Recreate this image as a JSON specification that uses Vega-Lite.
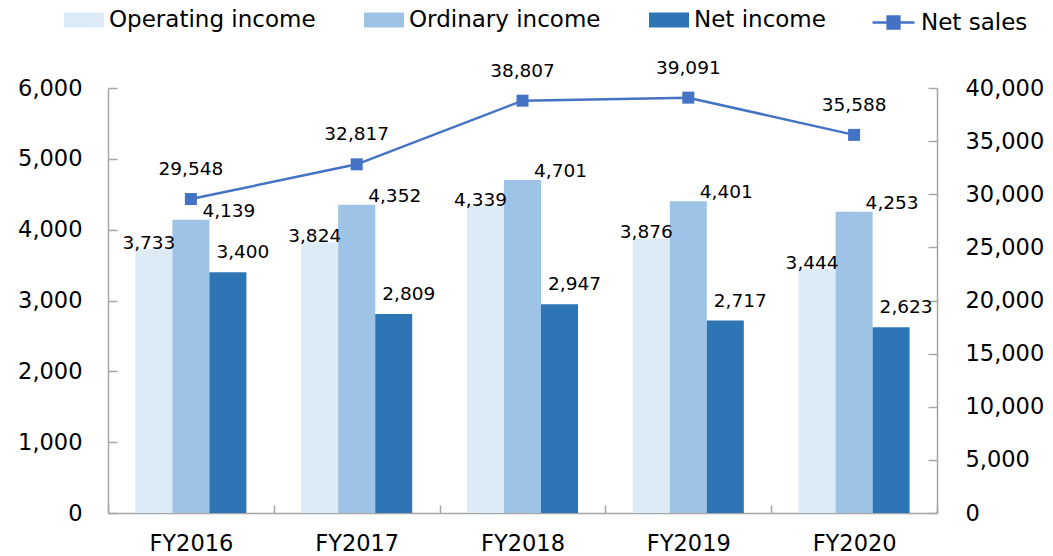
{
  "$schema": "https://vega.github.io/schema/vega-lite/v6.json",
  "width": 829,
  "height": 425,
  "autosize": {"type": "none"},
  "padding": {"left": 108, "top": 88, "right": 116, "bottom": 43},
  "background": "white",
  "config": {
    "font": "DejaVu Sans",
    "view": {"stroke": null},
    "axis": {"grid": false, "domainColor": "#A6A6A6", "tickColor": "#A6A6A6", "labelColor": "#000000", "labelFontSize": 22.5, "domainWidth": 1.5, "tickWidth": 1.5}
  },
  "datasets": {
    "profit": [
      {"year": "FY2016", "series": "Operating income", "value": 3733},
      {"year": "FY2016", "series": "Ordinary income", "value": 4139},
      {"year": "FY2016", "series": "Net income", "value": 3400},
      {"year": "FY2017", "series": "Operating income", "value": 3824},
      {"year": "FY2017", "series": "Ordinary income", "value": 4352},
      {"year": "FY2017", "series": "Net income", "value": 2809},
      {"year": "FY2018", "series": "Operating income", "value": 4339},
      {"year": "FY2018", "series": "Ordinary income", "value": 4701},
      {"year": "FY2018", "series": "Net income", "value": 2947},
      {"year": "FY2019", "series": "Operating income", "value": 3876},
      {"year": "FY2019", "series": "Ordinary income", "value": 4401},
      {"year": "FY2019", "series": "Net income", "value": 2717},
      {"year": "FY2020", "series": "Operating income", "value": 3444},
      {"year": "FY2020", "series": "Ordinary income", "value": 4253},
      {"year": "FY2020", "series": "Net income", "value": 2623}
    ],
    "sales": [
      {"year": "FY2016", "sales": 29548},
      {"year": "FY2017", "sales": 32817},
      {"year": "FY2018", "sales": 38807},
      {"year": "FY2019", "sales": 39091},
      {"year": "FY2020", "sales": 35588}
    ]
  },
  "encoding": {
    "x": {
      "field": "year", "type": "nominal", "title": null,
      "scale": {"paddingInner": 0, "paddingOuter": 0},
      "axis": {"labelAngle": 0, "tickBand": "extent", "tickSize": -8, "labelPadding": 27, "labelFontSize": 22.5}
    }
  },
  "layer": [
    {
      "data": {"name": "profit"},
      "layer": [
        {
          "mark": {"type": "bar"},
          "encoding": {
            "xOffset": {"field": "series", "type": "nominal", "sort": null, "scale": {"domain": ["Operating income", "Ordinary income", "Net income"], "paddingInner": 0, "paddingOuter": 0.74}},
            "y": {"field": "value", "type": "quantitative", "title": null, "scale": {"domain": [0, 6000], "nice": false},
              "axis": {"orient": "left", "values": [0, 1000, 2000, 3000, 4000, 5000, 6000], "labelExpr": "format(datum.value, ',')", "tickSize": -9, "labelPadding": 35}},
            "color": {"field": "series", "type": "nominal", "sort": null,
              "scale": {"domain": ["Operating income", "Ordinary income", "Net income"], "range": ["#DDEBF7", "#9DC3E6", "#2E75B6"]},
              "legend": {"orient": "none", "legendX": -44, "legendY": -88, "direction": "horizontal", "title": null,
                "symbolType": "M-1,-0.38H1V0.38H-1Z", "symbolSize": 1600, "symbolStrokeWidth": 0,
                "labelFontSize": 23, "labelColor": "#000000", "labelOffset": 5, "columnPadding": 48, "labelLimit": 400}}
          }
        },
        {
          "transform": [{"filter": "datum.series === 'Operating income'"}],
          "mark": {"type": "text", "fontSize": 18.5, "color": "#000000", "dx": -5, "dy": -6, "baseline": "middle"},
          "encoding": {
            "xOffset": {"field": "series", "type": "nominal", "sort": null},
            "y": {"field": "value", "type": "quantitative", "title": null},
            "text": {"field": "value", "type": "quantitative", "format": ","}
          }
        },
        {
          "transform": [{"filter": "datum.series === 'Ordinary income'"}],
          "mark": {"type": "text", "fontSize": 18.5, "color": "#000000", "dx": 38, "dy": -9, "baseline": "middle"},
          "encoding": {
            "xOffset": {"field": "series", "type": "nominal", "sort": null},
            "y": {"field": "value", "type": "quantitative", "title": null},
            "text": {"field": "value", "type": "quantitative", "format": ","}
          }
        },
        {
          "transform": [{"filter": "datum.series === 'Net income'"}],
          "mark": {"type": "text", "fontSize": 18.5, "color": "#000000", "dx": 15, "dy": -20, "baseline": "middle"},
          "encoding": {
            "xOffset": {"field": "series", "type": "nominal", "sort": null},
            "y": {"field": "value", "type": "quantitative", "title": null},
            "text": {"field": "value", "type": "quantitative", "format": ","}
          }
        }
      ]
    },
    {
      "data": {"name": "sales"},
      "encoding": {
        "y": {"field": "sales", "type": "quantitative", "title": null, "scale": {"domain": [0, 40000], "nice": false},
          "axis": {"orient": "right", "values": [0, 5000, 10000, 15000, 20000, 25000, 30000, 35000, 40000], "labelExpr": "format(datum.value, ',')", "tickSize": -9, "labelPadding": 37}}
      },
      "layer": [
        {
          "mark": {"type": "line", "strokeWidth": 2.5},
          "encoding": {
            "stroke": {"datum": "Net sales", "type": "nominal",
              "scale": {"domain": ["Net sales"], "range": ["#4472C4"]},
              "legend": {"orient": "none", "legendX": 763, "legendY": -88, "title": null,
                "symbolType": "M-1,0H1M-0.28,-0.28H0.28V0.28H-0.28Z", "symbolSize": 1764, "symbolStrokeWidth": 2.5,
                "symbolFillColor": "#4472C4", "labelFontSize": 23, "labelColor": "#000000", "labelOffset": 5}}
          }
        },
        {
          "mark": {"type": "point", "shape": "square", "filled": true, "size": 144, "color": "#4472C4", "opacity": 1},
          "encoding": {}
        },
        {
          "mark": {"type": "text", "fontSize": 18.5, "color": "#000000", "dy": -30, "baseline": "middle"},
          "encoding": {"text": {"field": "sales", "type": "quantitative", "format": ","}}
        }
      ]
    }
  ],
  "resolve": {"scale": {"y": "independent"}}
}
